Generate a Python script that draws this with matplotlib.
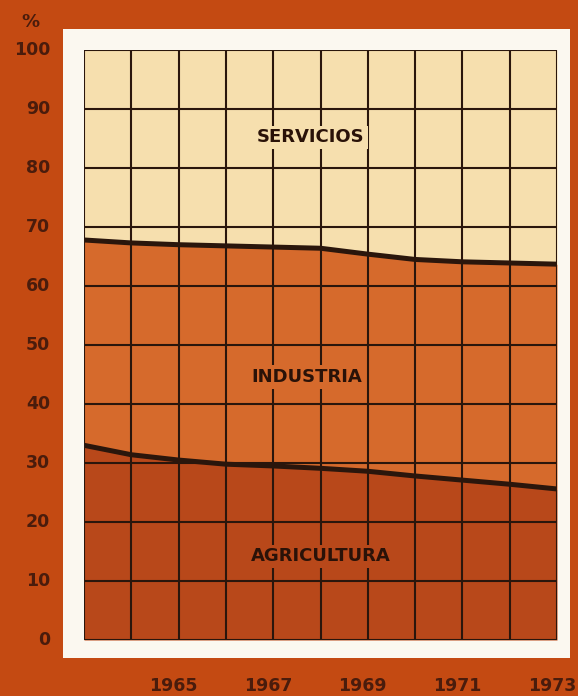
import matplotlib.pyplot as plt
import matplotlib.patches as patches
import numpy as np

years = [1963, 1964, 1965, 1966, 1967, 1968, 1969, 1970, 1971, 1972, 1973]
agricultura = [33.0, 31.4, 30.5, 29.8, 29.5, 29.1, 28.6, 27.8, 27.1, 26.4, 25.6]  # limite inferior
industria_top = [67.8, 67.3, 67.0, 66.8, 66.6, 66.4, 65.4, 64.5, 64.1, 63.9, 63.7]  # agri + industria
year_labels = [1965, 1967, 1969, 1971, 1973]
y_ticks = [0, 10, 20, 30, 40, 50, 60, 70, 80, 90, 100]

bg = '#c44a12'
c_serv = '#f6dfae'
c_ind = '#d66a2c'
c_agr = '#b8481a'
c_line = '#2a160c'
c_text = '#4a1c0c'
c_lab = '#2a1208'

fig = plt.figure(figsize=(5.78, 6.96), dpi=100)
fig.patch.set_facecolor(bg)

# panel blanco detras del grafico
fig.patches.append(patches.Rectangle((63 / 578, 1 - 658 / 696), (570 - 63) / 578, (658 - 29) / 696,
                                     transform=fig.transFigure, facecolor='#fbf8f0', edgecolor='none', zorder=-1))

ax = fig.add_axes([84 / 578, 56 / 696, (557 - 84) / 578, 590 / 696])
ax.set_zorder(2)
ax.set_xlim(1963, 1973)
ax.set_ylim(0, 100)

ax.fill_between(years, 0, agricultura, color=c_agr, lw=0)
ax.fill_between(years, agricultura, industria_top, color=c_ind, lw=0)
ax.fill_between(years, industria_top, 100, color=c_serv, lw=0)

for yy in y_ticks:
    ax.axhline(yy, color=c_line, lw=1.5, zorder=2)
for xx in years:
    ax.axvline(xx, color=c_line, lw=1.5, zorder=2)

ax.plot(years, agricultura, color=c_line, lw=3.6, zorder=3)
ax.plot(years, industria_top, color=c_line, lw=3.6, zorder=3)

lab_kw = dict(ha='center', va='center', fontsize=13, fontweight='bold', color=c_lab, zorder=4)
ax.text(1967.8, 85.2, 'SERVICIOS', bbox=dict(facecolor=c_serv, edgecolor='none', pad=2), **lab_kw)
ax.text(1967.7, 44.6, 'INDUSTRIA', bbox=dict(facecolor=c_ind, edgecolor='none', pad=2), **lab_kw)
ax.text(1968.0, 14.2, 'AGRICULTURA', bbox=dict(facecolor=c_agr, edgecolor='none', pad=2), **lab_kw)

for s in ax.spines.values():
    s.set_visible(False)
ax.set_xticks([])
ax.set_yticks([])

# etiquetas de ejes fuera del panel
for yy in y_ticks:
    fig.text(50 / 578, (56 + yy * 5.9) / 696, str(yy), ha='right', va='center', fontsize=12.5,
             fontweight='bold', color=c_text)
fig.text(30 / 578, 1 - 22 / 696, '%', ha='center', va='center', fontsize=13, fontweight='bold', color=c_text)
for yr in year_labels:
    xpix = 84 + (yr - 1963) * 47.3 - 5
    fig.text(xpix / 578, 1 - 686 / 696, str(yr), ha='center', va='center', fontsize=12.5,
             fontweight='bold', color=c_text)

fig.savefig('out.png', dpi=100, facecolor=bg)
